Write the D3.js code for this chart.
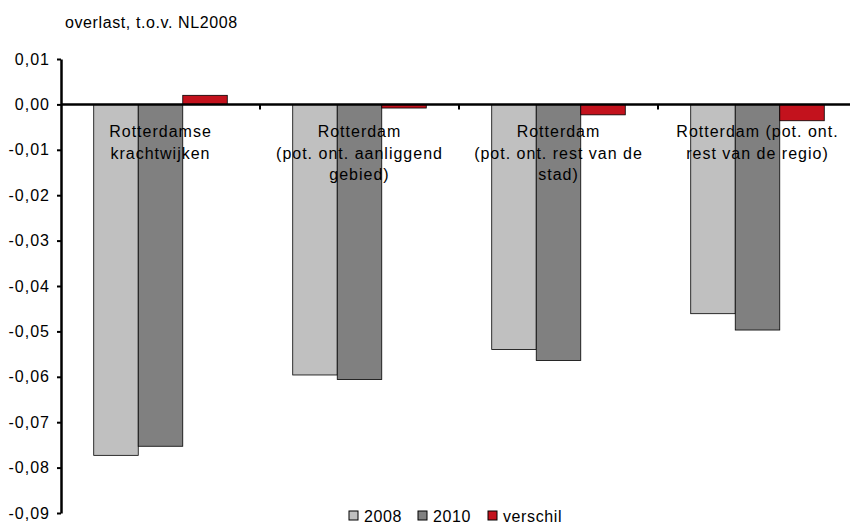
<!DOCTYPE html>
<html>
<head>
<meta charset="utf-8">
<script src="https://cdn.jsdelivr.net/npm/d3@7"></script>
<style>
  body { margin: 0; background: #fff; }
  text { font-family: "Liberation Sans", Arial, sans-serif; fill: #000; }
</style>
</head>
<body>
<div id="chart"></div>
<script>
// categories (label lines as wrapped in the original)
var categories = ["krachtwijken", "aanliggend", "rest stad", "rest regio"];
var categoryLines = [
    ["Rotterdamse", "krachtwijken"],
    ["Rotterdam", "(pot. ont. aanliggend", "gebied)"],
    ["Rotterdam", "(pot. ont. rest van de", "stad)"],
    ["Rotterdam (pot. ont.", "rest van de regio)"]
];
var series = ["2008", "2010", "verschil"];
var values2008 = [-0.0773, -0.0596, -0.0540, -0.0461];
var values2010 = [-0.0753, -0.0606, -0.0564, -0.0497];
var valuesVerschil = [0.0020, -0.0008, -0.0023, -0.0036];
var yTicks = [0.01, 0, -0.01, -0.02, -0.03, -0.04, -0.05, -0.06, -0.07, -0.08, -0.09];
var colors = ["#c0c0c0", "#808080", "#c3121d"];

var w = 850;
var h = 523;

var svg = d3.select("#chart")
        .append("svg")
        .attr("width", w)
        .attr("height", h);

var nl = d3.formatLocale({decimal: ",", thousands: ".", grouping: [3], currency: ["", ""], minus: "-"});
var fmt = nl.format(".2f");

//scales
var x0 = d3.scaleBand()
        .domain(categories)
        .range([61, 857]);

var x1 = d3.scaleBand()
        .domain(series)
        .range([0, x0.bandwidth()])
        .paddingInner(0)
        .paddingOuter(0.735);

var y = d3.scaleLinear()
        .domain([-0.09, 0.01])
        .range([513, 59]);

var allValues = [values2008, values2010, valuesVerschil];

//bars
series.forEach(function(s, si) {
    svg.append("g")
        .selectAll("rect")
        .data(allValues[si])
        .enter()
        .append("rect")
        .attr("x", function(d, i) { return x0(categories[i]) + x1(s); })
        .attr("y", function(d) { return y(Math.max(0, d)); })
        .attr("width", x1.bandwidth())
        .attr("height", function(d) { return Math.abs(y(d) - y(0)); })
        .attr("fill", colors[si])
        .attr("stroke", "#000")
        .attr("stroke-width", 0.8);
});

//y axis
var yAxis = d3.axisLeft(y)
        .tickValues(yTicks)
        .tickFormat(fmt)
        .tickSize(4)
        .tickSizeOuter(0)
        .tickPadding(7);

var gy = svg.append("g")
        .attr("transform", "translate(61,0)")
        .call(yAxis);
gy.select(".domain").attr("stroke-width", 2.5);
gy.selectAll(".tick line").attr("stroke-width", 2);
gy.selectAll(".tick text")
        .style("font-size", "16px")
        .style("letter-spacing", "1px")
        .attr("fill", "#000");

//zero line with category separators
svg.append("line")
        .attr("x1", 61)
        .attr("x2", 857)
        .attr("y1", y(0))
        .attr("y2", y(0))
        .attr("stroke", "#000")
        .attr("stroke-width", 2.5);

svg.append("g")
        .selectAll("line")
        .data(categories.slice(1))
        .enter()
        .append("line")
        .attr("x1", function(d) { return x0(d); })
        .attr("x2", function(d) { return x0(d); })
        .attr("y1", y(0))
        .attr("y2", y(0) + 5)
        .attr("stroke", "#000")
        .attr("stroke-width", 2);

//category labels
var labels = svg.append("g")
        .selectAll("text")
        .data(categories)
        .enter()
        .append("text")
        .attr("text-anchor", "middle")
        .style("font-size", "16px")
        .style("letter-spacing", "1px")
        .attr("y", y(0) + 33);

labels.selectAll("tspan")
        .data(function(d, i) { return categoryLines[i].map(function(l) { return {cat: d, line: l}; }); })
        .enter()
        .append("tspan")
        .attr("x", function(d) { return x0(d.cat) + x0.bandwidth() / 2; })
        .attr("dy", function(d, i) { return i === 0 ? 0 : 21.5; })
        .text(function(d) { return d.line; });

//title
svg.append("text")
        .attr("x", 65)
        .attr("y", 28)
        .style("font-size", "16px")
        .style("letter-spacing", "0.6px")
        .text("overlast, t.o.v. NL2008");

//legend
var legendX = [349, 418, 488];
var legend = svg.append("g")
        .selectAll("g")
        .data(series)
        .enter()
        .append("g")
        .attr("transform", function(d, i) { return "translate(" + legendX[i] + ",511)"; });

legend.append("rect")
        .attr("width", 9)
        .attr("height", 9)
        .attr("fill", function(d, i) { return colors[i]; })
        .attr("stroke", "#000")
        .attr("stroke-width", 1);

legend.append("text")
        .attr("x", 15)
        .attr("y", 10.5)
        .style("font-size", "16px")
        .style("letter-spacing", "0.6px")
        .text(function(d) { return d; });
</script>
</body>
</html>
